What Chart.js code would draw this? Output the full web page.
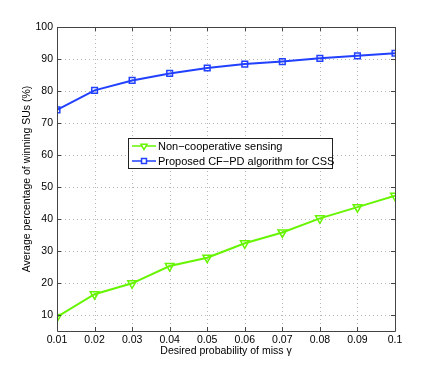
<!DOCTYPE html>
<html>
<head>
<meta charset="utf-8">
<script src="https://cdn.jsdelivr.net/npm/chart.js@4"></script>
<style>
  html, body { margin: 0; padding: 0; background: #fff; }
  #wrap { width: 436px; height: 372px; }
</style>
</head>
<body>
<div id="wrap"><canvas id="chart" width="436" height="372"></canvas></div>
<script>
const missProb = [0.01, 0.02, 0.03, 0.04, 0.05, 0.06, 0.07, 0.08, 0.09, 0.1];
const nonCoop = [9.4, 16.5, 19.9, 25.3, 27.9, 32.4, 35.8, 40.2, 43.7, 47.3];
const cfpd = [74.1, 80.2, 83.3, 85.5, 87.2, 88.4, 89.2, 90.2, 91.0, 91.8];
const yTicks = [10, 20, 30, 40, 50, 60, 70, 80, 90, 100];
const seriesNames = ['Non\u2212cooperative sensing', 'Proposed CF\u2212PD algorithm for CSS'];

const GREEN = '#66f500';
const BLUE = '#2140ff';
const FONT = '"Liberation Sans", Arial, sans-serif';
const FSIZE = 10.5;

// matlab-like dotted grid, frame and inward ticks
const framePlugin = {
  id: 'frame',
  beforeDatasetsDraw(chart) {
    const { ctx, chartArea: a, scales } = chart;
    ctx.save();
    ctx.strokeStyle = '#b4b4b4';
    ctx.lineWidth = 1;
    ctx.setLineDash([1, 3]);
    ctx.beginPath();
    scales.x.ticks.forEach(t => {
      const x = Math.round(scales.x.getPixelForValue(t.value)) + 0.5;
      ctx.moveTo(x, a.top); ctx.lineTo(x, a.bottom);
    });
    scales.y.ticks.forEach(t => {
      const y = Math.round(scales.y.getPixelForValue(t.value)) + 0.5;
      ctx.moveTo(a.left, y); ctx.lineTo(a.right, y);
    });
    ctx.stroke();
    ctx.restore();
  },
  afterDatasetsDraw(chart) {
    const { ctx, chartArea: a, scales } = chart;
    ctx.save();
    ctx.strokeStyle = '#444';
    ctx.lineWidth = 1;
    ctx.beginPath();
    ctx.rect(a.left + 0.5, a.top + 0.5, a.right - a.left, a.bottom - a.top);
    ctx.stroke();
    ctx.beginPath();
    scales.x.ticks.forEach(t => {
      const x = Math.round(scales.x.getPixelForValue(t.value)) + 0.5;
      ctx.moveTo(x, a.bottom); ctx.lineTo(x, a.bottom - 4);
      ctx.moveTo(x, a.top); ctx.lineTo(x, a.top + 4);
    });
    scales.y.ticks.forEach(t => {
      const y = Math.round(scales.y.getPixelForValue(t.value)) + 0.5;
      ctx.moveTo(a.left, y); ctx.lineTo(a.left + 4, y);
      ctx.moveTo(a.right, y); ctx.lineTo(a.right - 4, y);
    });
    ctx.stroke();
    ctx.restore();
  }
};

const legendPlugin = {
  id: 'boxLegend',
  afterDraw(chart) {
    const { ctx } = chart;
    const x0 = 128, y0 = 138, w = 204, h = 30;
    ctx.save();
    ctx.fillStyle = '#fff';
    ctx.fillRect(x0, y0, w, h);
    ctx.strokeStyle = '#222';
    ctx.lineWidth = 1;
    ctx.strokeRect(x0 + 0.5, y0 + 0.5, w, h);
    ctx.font = '11px ' + FONT;
    ctx.textBaseline = 'middle';
    chart.data.datasets.forEach((ds, i) => {
      const cy = y0 + 8 + i * 15;
      ctx.strokeStyle = ds.borderColor;
      ctx.lineWidth = 1.5;
      ctx.beginPath();
      ctx.moveTo(x0 + 4, cy); ctx.lineTo(x0 + 28, cy);
      ctx.stroke();
      ctx.fillStyle = '#fff';
      Chart.helpers.drawPoint(ctx, {
        pointStyle: ds.pointStyle, radius: 3.5, rotation: ds.pointRotation || 0,
        borderWidth: 1.5
      }, x0 + 16, cy);
      ctx.fillStyle = '#000';
      ctx.fillText(ds.label, x0 + 30, cy + 1);
    });
    ctx.restore();
  }
};

new Chart(document.getElementById('chart'), {
  type: 'line',
  data: {
    datasets: [
      {
        label: seriesNames[0],
        data: missProb.map((x, i) => ({ x: x, y: nonCoop[i] })),
        borderColor: GREEN,
        backgroundColor: 'rgba(255,255,255,0)',
        borderWidth: 2,
        pointStyle: 'triangle',
        pointRotation: 180,
        pointRadius: 5,
        pointBorderWidth: 1.5,
        pointBackgroundColor: 'rgba(255,255,255,0)',
        tension: 0
      },
      {
        label: seriesNames[1],
        data: missProb.map((x, i) => ({ x: x, y: cfpd[i] })),
        borderColor: BLUE,
        backgroundColor: 'rgba(255,255,255,0)',
        borderWidth: 2,
        pointStyle: 'rect',
        pointRadius: 4,
        pointBorderWidth: 1.5,
        pointBackgroundColor: 'rgba(255,255,255,0)',
        tension: 0
      }
    ]
  },
  options: {
    responsive: false,
    animation: false,
    layout: { padding: { top: 27, right: 41, left: 21, bottom: 15 } },
    plugins: { legend: { display: false }, tooltip: { enabled: false } },
    scales: {
      x: {
        type: 'linear',
        min: 0.01,
        max: 0.1,
        afterBuildTicks(s) { s.ticks = missProb.map(v => ({ value: v })); },
        afterFit(s) { s.height = 26; },
        ticks: {
          color: '#000',
          font: { family: FONT, size: FSIZE },
          padding: 3,
          maxRotation: 0,
          callback: v => String(parseFloat(v.toFixed(2)))
        },
        grid: { display: false, drawTicks: false, tickLength: 0 },
        border: { display: false },
        title: {
          display: true,
          text: 'Desired probability of miss \u03b3',
          color: '#000',
          font: { family: FONT, size: FSIZE },
          padding: { top: 0, bottom: 0 }
        }
      },
      y: {
        min: 5,
        max: 100,
        afterBuildTicks(s) { s.ticks = yTicks.map(v => ({ value: v })); },
        afterFit(s) { s.width = 36; },
        ticks: {
          color: '#000',
          font: { family: FONT, size: FSIZE },
          padding: 4
        },
        grid: { display: false, drawTicks: false, tickLength: 0 },
        border: { display: false },
        title: {
          display: true,
          text: 'Average percentage of winning SUs (%)',
          color: '#000',
          font: { family: FONT, size: FSIZE },
          padding: { top: 0, bottom: 2 }
        }
      }
    }
  },
  plugins: [framePlugin, legendPlugin]
});
</script>
</body>
</html>
